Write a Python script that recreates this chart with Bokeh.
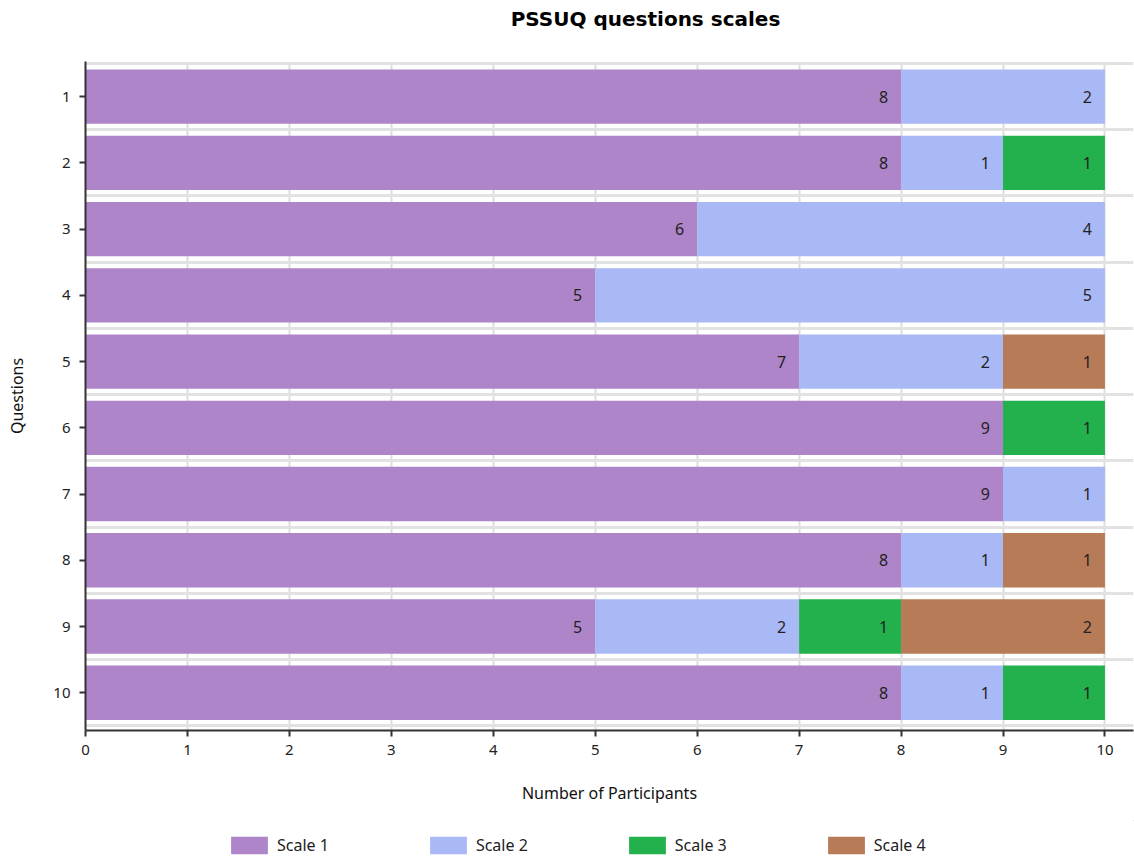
from bokeh.plotting import figure
from bokeh.models import ColumnDataSource, Range1d, FixedTicker, Legend, LegendItem
from bokeh.layouts import column
from bokeh.core.properties import value
from bokeh.embed import file_html
from bokeh.resources import INLINE

questions = [1, 2, 3, 4, 5, 6, 7, 8, 9, 10]
scale1 = [8, 8, 6, 5, 7, 9, 9, 8, 5, 8]
scale2 = [2, 1, 4, 5, 2, 0, 1, 1, 2, 1]
scale3 = [0, 1, 0, 0, 0, 1, 0, 0, 1, 1]
scale4 = [0, 0, 0, 0, 1, 0, 0, 1, 2, 0]
series_names = ["Scale 1", "Scale 2", "Scale 3", "Scale 4"]
colors = ["#AE85C8", "#A9B9F5", "#23B14D", "#B77B57"]
x_ticks = [0, 1, 2, 3, 4, 5, 6, 7, 8, 9, 10]
title_text = "PSSUQ questions scales"

FONT = "Noto Sans"

# title strip
pt = figure(width=1134, height=61, output_backend="svg", toolbar_location=None,
            x_range=Range1d(0, 1048), y_range=Range1d(0, 61),
            min_border_left=85, min_border_right=1, min_border_top=0, min_border_bottom=0)
pt.axis.visible = False
pt.grid.visible = False
pt.outline_line_color = None
pt.text(x=[560], y=[43], text=[title_text], text_align="center", text_baseline="middle",
        text_font=value("DejaVu Sans"), text_font_style="bold", text_font_size="20px",
        text_color="#000000")

# main chart
p = figure(width=1134, height=759, output_backend="svg", toolbar_location=None,
           x_range=Range1d(0, 10.28), y_range=Range1d(10.57, 0.47),
           min_border_left=85, min_border_right=1, min_border_top=0, min_border_bottom=90)

data = dict(q=questions, s1=scale1, s2=scale2, s3=scale3, s4=scale4)
src = ColumnDataSource(data)
renderers = p.hbar_stack(["s1", "s2", "s3", "s4"], y="q", height=0.82, color=colors,
                         source=src, line_color=None)

# labels
lx, ly, lt = [], [], []
for i, q in enumerate(questions):
    cum = 0
    for s in (scale1, scale2, scale3, scale4):
        v = s[i]
        cum += v
        if v > 0:
            lx.append(cum)
            ly.append(q)
            lt.append(str(v))
p.text(x=lx, y=ly, text=lt, text_align="right", text_baseline="middle", x_offset=-13,
       text_font=value(FONT), text_font_size="16px", text_color="#222222")

# axes
p.xaxis.ticker = FixedTicker(ticks=x_ticks)
p.yaxis.ticker = FixedTicker(ticks=questions)
p.xaxis.axis_label = "Number of Participants"
p.yaxis.axis_label = "Questions"
for ax in (p.xaxis[0], p.yaxis[0]):
    ax.axis_label_text_font = FONT
    ax.axis_label_text_font_size = "16px"
    ax.axis_label_text_font_style = "normal"
    ax.axis_label_text_color = "#111111"
    ax.major_label_text_font = FONT
    ax.major_label_text_font_size = "15px"
    ax.major_label_text_color = "#222222"
    ax.axis_line_color = "#333333"
    ax.axis_line_width = 2
    ax.major_tick_line_color = "#333333"
    ax.major_tick_line_width = 2
    ax.major_tick_in = 0
    ax.major_tick_out = 6
    ax.minor_tick_line_color = None
p.xaxis.major_label_standoff = 8
p.xaxis.axis_label_standoff = 24
p.yaxis.major_label_standoff = 9
p.yaxis.axis_label_standoff = 22

p.xgrid.ticker = FixedTicker(ticks=x_ticks)
p.xgrid.grid_line_color = "#dddddd"
p.xgrid.grid_line_width = 2
p.ygrid.ticker = FixedTicker(ticks=[0.5 + k for k in range(11)])
p.ygrid.grid_line_color = "#e2e2e2"
p.ygrid.grid_line_width = 3
p.outline_line_color = None
p.background_fill_color = "white"

# legend strip below the chart
pl = figure(width=1134, height=37, output_backend="svg", toolbar_location=None,
            x_range=Range1d(0, 1), y_range=Range1d(0, 1),
            min_border_left=85, min_border_right=1, min_border_top=0, min_border_bottom=0)
pl.axis.visible = False
pl.grid.visible = False
pl.outline_line_color = None
items = []
for n, c in zip(series_names, colors):
    r = pl.hbar(y=[5], left=[5], right=[6], height=1, color=c, line_color=None)
    items.append(LegendItem(label=n, renderers=[r]))
legend = Legend(items=items, orientation="horizontal", location=(141, 1),
                glyph_width=46, glyph_height=22, label_standoff=5, spacing=96,
                label_text_font=FONT, label_text_font_size="16px", label_text_color="#222222",
                border_line_color=None, background_fill_alpha=0, padding=0, margin=0)
pl.add_layout(legend, "center")

layout = column(pt, p, pl, spacing=0)
open("out.html", "w").write(file_html(layout, INLINE))
